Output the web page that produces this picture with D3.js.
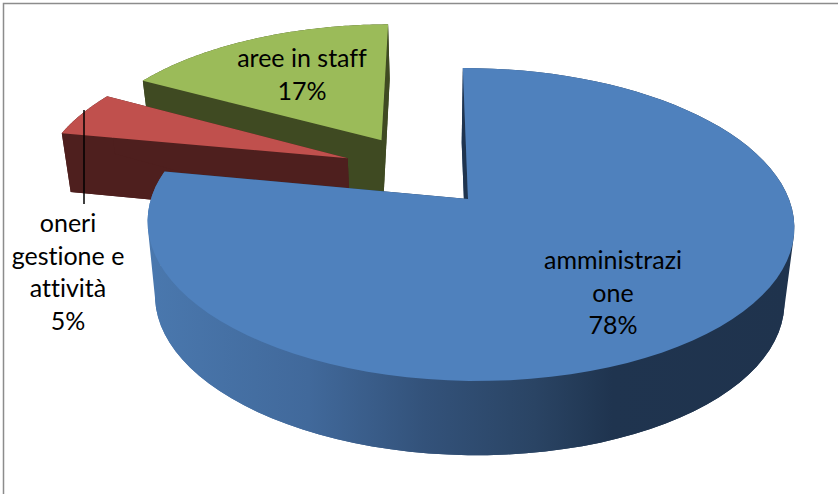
<!DOCTYPE html>
<html>
<head>
<meta charset="utf-8">
<script src="https://d3js.org/d3.v7.min.js"></script>
<style>
  html, body { margin: 0; padding: 0; background: #fff; }
  svg { display: block; }
  text { font-family: Lato, "Open Sans", sans-serif; fill: #000; font-variant-ligatures: none; }
</style>
</head>
<body>
<svg id="chart" width="838" height="494"></svg>
<script>
// Cost breakdown, drawn as an exploded 3D pie
const categories = ["amministrazione", "oneri gestione e attività", "aree in staff"];
const shares = [78, 5, 17];
const labelLines = [["amministrazi", "one", "78%"], ["oneri", "gestione e", "attività", "5%"], ["aree in staff", "17%"]];
const topColors = ["#4f81bd", "#c0504d", "#9bbb59"];
const wallColors = ["#1f344f", "#4e1f1e", "#3f4a22"];
const explode = [[0, 0], [-0.39, 0.281], [-0.282, 0.413]];
const labelAnchors = [[613, 269], [68, 232], [302, 67]];

const svg = d3.select("#chart");
const W = 838, H = 494;

// Perspective view of a unit disc lying on the chart floor
const view = { x0: 468, y0: 199, a: 319, b: 152.3, k: 0.163, tilt: -0.006, shear: -6 };
// Underside of each slice: the front slice reads deeper than the two pulled-out ones
const floors = [
  { depth: 80, k: 0.129, sx: 0.978, sy: 0.94, dx: -1 },
  { depth: 62, k: 0.163, sx: 0.978, sy: 0.974, dx: 0 },
  { depth: 62, k: 0.163, sx: 0.978, sy: 0.974, dx: 0 }
];

function project(u, v, floor) {
  const w = 1 + (floor ? floor.k : view.k) * v + view.tilt * u;
  const x = view.x0 + (floor ? floor.dx : 0) + ((floor ? floor.sx : 1) * view.a * u + view.shear * v) / w;
  const y = view.y0 + ((floor ? floor.depth : 0) - (floor ? floor.sy : 1) * view.b * v) / w;
  return [x, y];
}

const pie = d3.pie().sort(null).value(d => d);
const arcs = pie(shares);

function arcPoints(d, i, floor) {
  const [ex, ey] = explode[i];
  const n = 90;
  return d3.range(n + 1).map(j => {
    const t = d.startAngle + (d.endAngle - d.startAngle) * j / n;
    return project(Math.sin(t) + ex, Math.cos(t) + ey, floor);
  });
}
const apex = (i, floor) => project(explode[i][0], explode[i][1], floor);
const poly = d3.line();

// Outer wall as one path of quads, all wound the same way so overlaps at the
// silhouette stay filled
function wallPath(topArc, lowArc) {
  return d3.range(topArc.length - 1).map(j => {
    const quad = [topArc[j], topArc[j + 1], lowArc[j + 1], lowArc[j]];
    if (d3.polygonArea(quad) < 0) quad.reverse();
    return poly(quad) + "Z";
  }).join("");
}

// Shading along the outer wall of the large slice
const defs = svg.append("defs");
const wallGrad = defs.append("linearGradient")
  .attr("id", "wallShade").attr("gradientUnits", "userSpaceOnUse")
  .attr("x1", 147).attr("x2", 793).attr("y1", 0).attr("y2", 0);
[[0, "#4a78ae"], [0.25, "#41699b"], [0.43, "#33527a"], [0.6, "#2a4464"], [0.72, "#1f344f"], [1, "#1f334d"]]
  .forEach(([o, c]) => wallGrad.append("stop").attr("offset", o).attr("stop-color", c));

// Frame: only the top and left edges show
svg.append("path").attr("d", `M3.5 ${H}V3.5H${W}`)
  .attr("fill", "none").attr("stroke", "#8c8c8c").attr("stroke-width", 1.5);

// Paint far slices first so the large slice overlaps them
[2, 1, 0].forEach(i => {
  const d = arcs[i];
  const floor = floors[i];
  const topArc = arcPoints(d, i, null);
  const lowArc = arcPoints(d, i, floor);
  const wallFill = i === 0 ? "url(#wallShade)" : wallColors[i];
  const g = svg.append("g").attr("class", "slice").datum(categories[i]);

  g.append("path").attr("d", poly([apex(i, floor), ...lowArc]) + "Z").attr("fill", wallFill);
  g.append("path").attr("d", wallPath(topArc, lowArc)).attr("fill", wallFill);
  [0, topArc.length - 1].forEach(idx => {
    g.append("path")
      .attr("d", poly([apex(i, null), topArc[idx], lowArc[idx], apex(i, floor)]) + "Z")
      .attr("fill", wallColors[i]);
  });
  g.append("path").attr("d", poly([apex(i, null), ...topArc]) + "Z").attr("fill", topColors[i]);
});

// Leader from the small slice to its label
svg.append("line").attr("x1", 84).attr("x2", 84).attr("y1", 110).attr("y2", 204)
  .attr("stroke", "#000").attr("stroke-width", 1.5);

// Data labels
labelLines.forEach((lines, i) => {
  const t = svg.append("text").attr("text-anchor", "middle").attr("font-size", 25)
    .attr("x", labelAnchors[i][0]).attr("y", labelAnchors[i][1]);
  lines.forEach((s, j) => {
    t.append("tspan").attr("x", labelAnchors[i][0]).attr("dy", j ? 32.5 : 0).text(s);
  });
});
</script>
</body>
</html>
